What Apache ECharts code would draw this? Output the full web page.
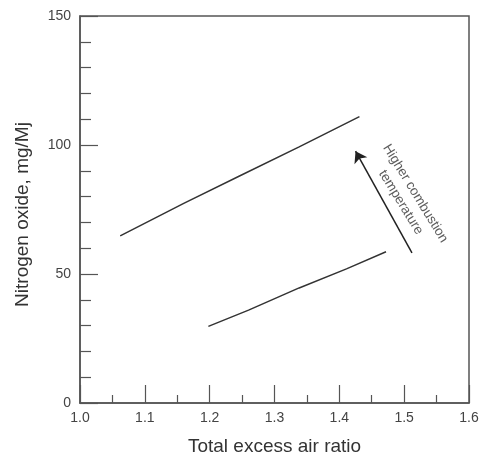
<!DOCTYPE html>
<html>
<head>
<meta charset="utf-8">
<script src="https://cdn.jsdelivr.net/npm/echarts@6/dist/echarts.min.js"></script>
<style>
  html, body { margin: 0; padding: 0; background: #fff; }
  #chart { width: 482px; height: 461px; }
</style>
</head>
<body>
<div id="chart"></div>
<script>
// Excess air ratio vs NOx emission, two combustion temperature levels
var xTicks = [1.0, 1.1, 1.2, 1.3, 1.4, 1.5, 1.6];
var yTicks = [0, 50, 100, 150];

// higher combustion temperature
var highTemp = [
  [1.062, 64.8], [1.160, 77.4], [1.246, 88.0], [1.338, 99.3], [1.431, 111.0]
];
// lower combustion temperature
var lowTemp = [
  [1.198, 29.7], [1.260, 36.0], [1.338, 44.6], [1.411, 52.0], [1.472, 58.6]
];

// arrow pointing toward higher temperature
var arrowFrom = [1.512, 58.2];
var arrowTo = [1.425, 97.6];
var arrowLabelAt = [1.506, 79.5];
var arrowText = 'Higher combustion\ntemperature';

var axisColor = '#555';
var labelColor = '#444';

var chart = echarts.init(document.getElementById('chart'));
chart.setOption({
  backgroundColor: '#fff',
  animation: false,
  textStyle: { fontFamily: 'Liberation Sans, Arial, sans-serif' },
  grid: {
    left: 80, right: 13, top: 16, bottom: 56,
    show: true, borderColor: axisColor, borderWidth: 1.5
  },
  xAxis: {
    type: 'value',
    min: xTicks[0], max: xTicks[xTicks.length - 1], interval: 0.1,
    name: 'Total excess air ratio',
    nameLocation: 'middle', nameGap: 34,
    nameTextStyle: { fontSize: 19, color: '#333' },
    axisLine: { show: true, lineStyle: { color: axisColor, width: 1.5 } },
    axisTick: { show: true, inside: true, length: 18, lineStyle: { color: axisColor, width: 1.2 } },
    minorTick: { show: true, splitNumber: 2, length: 8, lineStyle: { color: axisColor, width: 1.2 } },
    splitLine: { show: false },
    axisLabel: { fontSize: 14, color: labelColor, margin: 8, formatter: function (v) { return v.toFixed(1); } }
  },
  yAxis: {
    type: 'value',
    min: yTicks[0], max: yTicks[yTicks.length - 1], interval: 50,
    name: 'Nitrogen oxide, mg/Mj',
    nameLocation: 'middle', nameGap: 48,
    nameTextStyle: { fontSize: 19, color: '#333', padding: [0, 10, 0, 0] },
    axisLine: { show: true, lineStyle: { color: axisColor, width: 1.5 } },
    axisTick: { show: true, inside: true, length: 18, lineStyle: { color: axisColor, width: 1.2 } },
    minorTick: { show: true, splitNumber: 5, length: 11, lineStyle: { color: axisColor, width: 1.2 } },
    splitLine: { show: false },
    axisLabel: { fontSize: 14, color: labelColor, margin: 9 }
  },
  series: [
    {
      type: 'line', data: highTemp, showSymbol: false, smooth: false,
      lineStyle: { color: '#333', width: 1.5 }
    },
    {
      type: 'line', data: lowTemp, showSymbol: false, smooth: false,
      lineStyle: { color: '#333', width: 1.5 }
    },
    {
      type: 'line', data: [],
      markLine: {
        silent: true,
        symbol: ['none', 'arrow'], symbolSize: 11,
        label: { show: false },
        lineStyle: { color: '#222', width: 1.5, type: 'solid' },
        data: [[{ coord: arrowFrom }, { coord: arrowTo }]]
      }
    },
    {
      type: 'scatter', data: [arrowLabelAt], symbolSize: 0,
      label: {
        show: true, position: 'inside', rotate: -58.5,
        formatter: arrowText, fontSize: 13.5, lineHeight: 17, color: '#333', align: 'center'
      }
    }
  ]
});
</script>
</body>
</html>
